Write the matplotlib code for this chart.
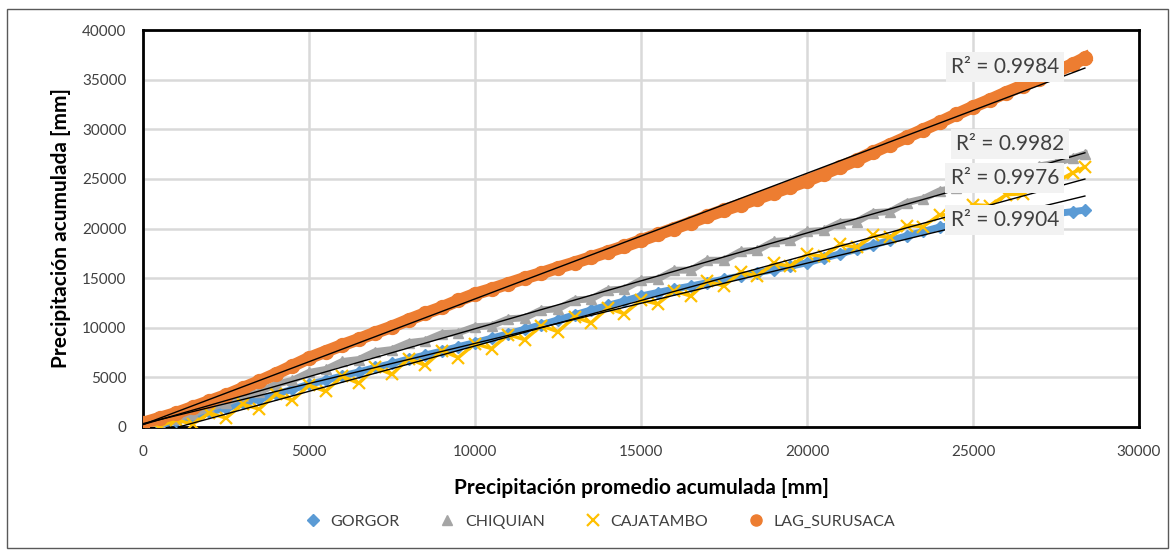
import numpy as np
import matplotlib
matplotlib.use("Agg")
from matplotlib import pyplot as plt
from matplotlib.lines import Line2D
from matplotlib.patches import Rectangle

plt.rcParams['font.family'] = ['Lato', 'DejaVu Sans']

# precipitacion promedio acumulada (eje x, comun a todas las estaciones)
x_prom = [0, 500, 1000, 1500, 2000, 2500, 3000, 3500, 4000, 4500,
          5000, 5500, 6000, 6500, 7000, 7500, 8000, 8500, 9000, 9500,
          10000, 10500, 11000, 11500, 12000, 12500, 13000, 13500, 14000, 14500,
          15000, 15500, 16000, 16500, 17000, 17500, 18000, 18500, 19000, 19500,
          20000, 20500, 21000, 21500, 22000, 22500, 23000, 23500, 24000, 24500,
          25000, 25500, 26000, 26500, 27000, 27500, 28000, 28370]

gorgor = [0, 200, 600, 1000, 1500, 1900, 2400, 2800, 3300, 3800,
          4300, 4700, 5150, 5550, 6000, 6400, 6850, 7250, 7650, 8100,
          8500, 8950, 9400, 9850, 10300, 10800, 11300, 11800, 12250, 12700,
          13200, 13550, 13900, 14200, 14550, 14900, 15200, 15550, 15850, 16200,
          16550, 17000, 17450, 17900, 18350, 18800, 19250, 19700, 20150, 20350,
          20550, 20750, 20950, 21150, 21350, 21500, 21700, 21850]

chiquian = [50, 300, 850, 1300, 1900, 2400, 3100, 3500, 4300, 4700,
            5500, 5800, 6600, 6800, 7600, 7800, 8500, 8700, 9400, 9500,
            10100, 10200, 10900, 11000, 11800, 11900, 12800, 12900, 13800, 13900,
            14800, 14900, 15800, 15800, 16800, 16800, 17700, 17800, 18700, 18800,
            19700, 19800, 20600, 20700, 21600, 21700, 22600, 23000, 23800, 24100,
            24700, 25000, 25500, 25800, 26300, 26600, 27100, 27500]

cajatambo = [500, 100, 700, 300, 1400, 900, 2300, 1800, 3300, 2700,
             4200, 3600, 5100, 4400, 6000, 5300, 6900, 6200, 7700, 7000,
             8400, 7900, 9300, 8800, 10200, 9600, 11100, 10500, 12000, 11400,
             12800, 12400, 13700, 13200, 14700, 14200, 15600, 15200, 16500, 16200,
             17400, 17200, 18400, 18100, 19300, 19100, 20300, 20200, 21400, 21300,
             22400, 22300, 23400, 23500, 24400, 24700, 25600, 26200]

lag_surusaca = [400, 900, 1400, 2000, 2600, 3200, 3900, 4600, 5350, 6150,
                6950, 7600, 8250, 8850, 9500, 10100, 10800, 11450, 12050, 12750,
                13400, 13900, 14450, 15000, 15500, 16050, 16550, 17100, 17650, 18200,
                18800, 19400, 20000, 20600, 21250, 21850, 22400, 23000, 23600, 24200,
                24800, 25500, 26200, 26900, 27700, 28450, 29200, 29950, 30700, 31500,
                32250, 32950, 33700, 34400, 35100, 35800, 36550, 37180]

nombres = ['GORGOR', 'CHIQUIAN', 'CAJATAMBO', 'LAG_SURUSACA']
r2_textos = ['R² = 0.9904', 'R² = 0.9982', 'R² = 0.9976', 'R² = 0.9984']
r2_pos = [(25960, 20860), (26110, 28510), (25960, 25090), (25960, 36270)]

colores = ['#5B9BD5', '#A5A5A5', '#FFC000', '#ED7D31']

fig = plt.figure(figsize=(11.76, 5.54), dpi=100)
ax = fig.add_axes([143 / 1176, 1 - 427 / 554, 996 / 1176, 397 / 554])

x = np.array(x_prom)
series = [gorgor, chiquian, cajatambo, lag_surusaca]

# bandas de puntos
ax.plot(x, gorgor, color=colores[0], lw=5, marker='D', ms=6, mec=colores[0], zorder=3)
ax.plot(x, chiquian, color=colores[1], lw=5, marker='^', ms=7, mec=colores[1], zorder=4)
ax.plot(x, cajatambo, color=colores[2], lw=2.5, marker='x', ms=8, mew=1.6, zorder=5)
ax.plot(x, lag_surusaca, color=colores[3], lw=9, marker='o', ms=10, mec=colores[3], zorder=6)

# lineas de tendencia
for y in series:
    m, b = np.polyfit(x, np.array(y), 1)
    xs = np.array([x[0], x[-1]])
    ax.plot(xs, m * xs + b, color='black', lw=1, zorder=7)

for txt, (tx, ty) in zip(r2_textos, r2_pos):
    ax.text(tx, ty, txt, fontsize=15, color='#404040', ha='center', va='center', zorder=10,
            bbox=dict(boxstyle='square,pad=0.25', facecolor='#f2f2f2', edgecolor='none'))

ax.set_xlim(0, 30000)
ax.set_ylim(0, 40000)
ax.set_xticks(range(0, 30001, 5000))
ax.set_yticks(range(0, 40001, 5000))
ax.grid(True, color='#d9d9d9', lw=1.8)
ax.set_axisbelow(True)
for s in ax.spines.values():
    s.set_linewidth(2)
    s.set_color('black')
ax.tick_params(length=0, labelsize=11, labelcolor='#404040')
ax.tick_params(axis='x', pad=13)
ax.tick_params(axis='y', pad=12)

ax.set_xlabel('Precipitación promedio acumulada [mm]', fontsize=15, fontweight='bold', labelpad=14)
ax.set_ylabel('Precipitación acumulada [mm]', fontsize=15, fontweight='bold', labelpad=8)

handles = [
    Line2D([], [], ls='none', marker='D', ms=6, color=colores[0]),
    Line2D([], [], ls='none', marker='^', ms=7, color=colores[1]),
    Line2D([], [], ls='none', marker='x', ms=8, mew=1.6, color=colores[2]),
    Line2D([], [], ls='none', marker='o', ms=8, color=colores[3]),
]
fig.legend(handles, nombres, loc='center', bbox_to_anchor=(596 / 1176, 1 - 522 / 554), ncol=4,
           frameon=False, fontsize=11.5, handletextpad=0.1, columnspacing=2.0, labelcolor='#404040')

fig.patches.append(Rectangle((7 / 1176, 1 - 548 / 554), 1161 / 1176, 539 / 554, transform=fig.transFigure,
                             fill=False, edgecolor='#595959', lw=1))

fig.savefig('out.png', dpi=100)
